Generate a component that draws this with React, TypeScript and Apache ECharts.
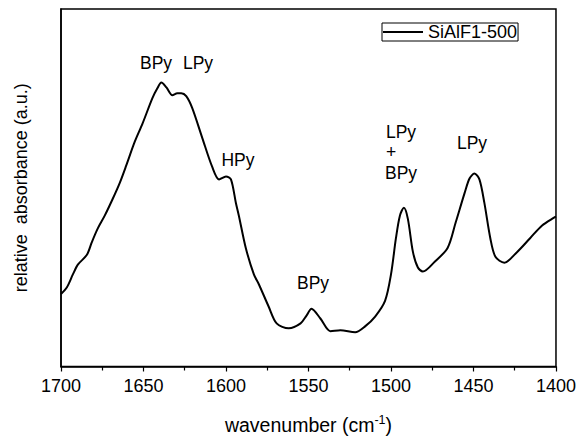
import React, { useEffect, useRef } from "react";
import * as echarts from "echarts";

const wavenumbers = [
  1700, 1696.4, 1692.8, 1689.8, 1684.3, 1681.3, 1677.7, 1673.5, 1668.7, 1664.5,
  1660.5, 1655.4, 1650.6, 1644.6,
  1641.6, 1639.2, 1636.1, 1632.5, 1629.5, 1627.1, 1624.1, 1620.5, 1614.5, 1608.4,
  1604.2, 1600, 1597, 1594, 1592.2, 1588, 1583.1, 1580.1, 1574.1, 1569.3,
  1562, 1554.8, 1551.2, 1548.2, 1542.8, 1536.7, 1530.7, 1521.7, 1515.7, 1509.6,
  1503.6, 1500, 1497, 1494.6, 1492.2, 1489.8, 1486.7, 1483.7, 1480.7, 1473.5,
  1465.7, 1460.8, 1455.4, 1452.4, 1449.4, 1446.4, 1443.4, 1439.8, 1436.7, 1431.3,
  1423.5, 1415.7, 1408.4, 1401.2, 1400,
];
const absorbance = [
  74, 81, 94, 104, 114, 127, 141, 154, 171, 187,
  205, 229, 248, 274,
  284, 290, 285, 277, 279, 279, 276, 264, 234, 204,
  191, 194, 191, 167, 154, 121, 94, 84, 61, 44,
  39, 44, 52, 59, 49, 36, 37, 35, 41, 51,
  67, 94, 131, 154, 162, 151, 117, 101, 97, 107,
  121, 147, 177, 192, 197, 191, 167, 131, 112, 106,
  117, 131, 144, 152, 153,
];
const seriesName = "SiAlF1-500";
const xTicks = [1700, 1650, 1600, 1550, 1500, 1450, 1400];

const annotations = [
  { text: "BPy", x: 156, y: 63 },
  { text: "LPy", x: 198, y: 63 },
  { text: "HPy", x: 238, y: 160 },
  { text: "BPy", x: 313, y: 283 },
  { text: "LPy", x: 401, y: 132 },
  { text: "+", x: 391, y: 152 },
  { text: "BPy", x: 401, y: 173 },
  { text: "LPy", x: 472, y: 143 },
];

const FONT = "'Liberation Sans', Arial, Helvetica, sans-serif";

export default function App() {
  const ref = useRef<HTMLDivElement>(null);
  useEffect(() => {
    if (!ref.current) return;
    const chart = echarts.init(ref.current, null, { renderer: "svg" });
    const data = wavenumbers.map((w, i) => [w, absorbance[i]]);
    chart.setOption({
      animation: false,
      backgroundColor: "#ffffff",
      textStyle: { fontFamily: FONT, color: "#000" },
      grid: {
        left: 61,
        right: 21,
        top: 9,
        bottom: 66,
        show: true,
        borderColor: "#000",
        borderWidth: 1.5,
        backgroundColor: "transparent",
      },
      legend: {
        left: 382,
        top: 23,
        orient: "horizontal",
        borderColor: "#000",
        borderWidth: 1,
        padding: [0, 1, 0, 1],
        itemWidth: 40,
        itemHeight: 18,
        itemGap: 0,
        textStyle: { fontFamily: FONT, fontSize: 18, color: "#000", padding: [0, 0, 0, 0] },
        data: [{ name: seriesName, icon: "path://M0,0L40,0L40,2L0,2Z" }],
        itemStyle: { color: "#000" },
      },
      xAxis: {
        type: "value",
        min: 1400,
        max: 1700,
        interval: 50,
        inverse: true,
        name: "wavenumber (cm{sup|-1})",
        nameLocation: "middle",
        nameGap: 47,
        nameTextStyle: {
          fontFamily: FONT,
          fontSize: 19.5,
          color: "#000",
          rich: {
            sup: { fontFamily: FONT, fontSize: 12.5, color: "#000", padding: [0, 0, 10, 0] },
          },
        },
        axisLine: { show: true, lineStyle: { color: "#000", width: 1.5 } },
        axisTick: { show: true, inside: false, length: 5, lineStyle: { color: "#000", width: 1.2 } },
        minorTick: { show: true, splitNumber: 2, length: 4, lineStyle: { color: "#000", width: 1.2 } },
        axisLabel: {
          margin: 10,
          fontFamily: FONT,
          fontSize: 18,
          color: "#000",
          formatter: (v: number) => (xTicks.includes(v) ? String(v) : ""),
        },
        splitLine: { show: false },
      },
      yAxis: {
        type: "value",
        min: 0,
        max: 365,
        name: "relative  absorbance (a.u.)",
        nameLocation: "middle",
        nameGap: 31,
        nameRotate: 90,
        nameTextStyle: { fontFamily: FONT, fontSize: 18, color: "#000" },
        axisLine: { show: true, lineStyle: { color: "#000", width: 1.5 } },
        axisTick: { show: false },
        axisLabel: { show: false },
        splitLine: { show: false },
      },
      graphic: annotations.map((a) => ({
        type: "text",
        x: a.x,
        y: a.y,
        style: {
          text: a.text,
          fontFamily: FONT,
          fontSize: 17.5,
          fill: "#000",
          textAlign: "center",
          textVerticalAlign: "middle",
        },
      })),
      series: [
        {
          name: seriesName,
          type: "line",
          data,
          smooth: 0.3,
          symbol: "none",
          lineStyle: { color: "#000", width: 2 },
          itemStyle: { color: "#000" },
        },
      ],
    });
    return () => chart.dispose();
  }, []);
  return <div ref={ref} style={{ width: 579, height: 440, position: "absolute", left: 0, top: 0 }} />;
}
